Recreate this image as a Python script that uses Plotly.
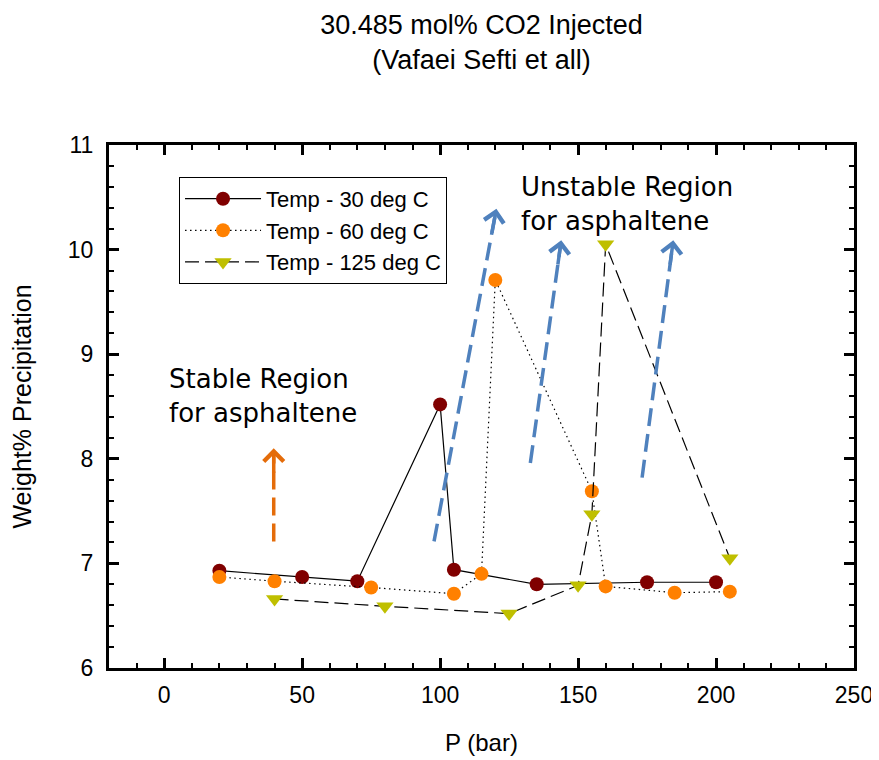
import math
import plotly.graph_objects as go

# ---- data ----
p30 = [20, 50, 70, 100, 105, 135, 175, 200]
w30 = [6.93, 6.87, 6.83, 8.52, 6.94, 6.80, 6.82, 6.82]

p60 = [20, 40, 75, 105, 115, 120, 155, 160, 185, 205]
w60 = [6.87, 6.83, 6.77, 6.71, 6.90, 9.71, 7.69, 6.78, 6.72, 6.73]

p125 = [40, 80, 125, 150, 155, 160, 205]
w125 = [6.66, 6.59, 6.52, 6.79, 7.47, 10.05, 7.05]

# arrows: (tail_x, tail_y, tip_x, tip_y)
blue_arrows = [(97.8, 7.21, 120.4, 10.39), (132.7, 7.96, 143.9, 10.09), (173.2, 7.82, 184.5, 10.09)]
orange_arrows = [(39.7, 7.21, 39.7, 8.10)]

X_RANGE = [-20, 250]
Y_RANGE = [6, 11]
PLOT_W, PLOT_H = 745, 523

AX_FONT = "Liberation Sans, Arial, sans-serif"
TXT_FONT = "DejaVu Sans, Verdana, sans-serif"

fig = go.Figure()
fig.add_trace(go.Scatter(x=p30, y=w30, mode="lines+markers", name="Temp - 30 deg C",
                         line=dict(color="black", width=1.2),
                         marker=dict(color="#800000", size=14, symbol="circle")))
fig.add_trace(go.Scatter(x=p60, y=w60, mode="lines+markers", name="Temp - 60 deg C",
                         line=dict(color="black", width=1.2, dash="1.5px,3.5px"),
                         marker=dict(color="#ff8000", size=14, symbol="circle")))
fig.add_trace(go.Scatter(x=p125, y=w125, mode="lines+markers", name="Temp - 125 deg C",
                         line=dict(color="black", width=1.2, dash="14px,6px"),
                         marker=dict(color="#bfbf00", size=15, symbol="triangle-down")))

sx = PLOT_W / (X_RANGE[1] - X_RANGE[0])
sy = PLOT_H / (Y_RANGE[1] - Y_RANGE[0])

def add_arrow(a, color):
    tx, ty, hx, hy = a
    dxp, dyp = (hx - tx) * sx, (hy - ty) * sy
    L = math.hypot(dxp, dyp)
    back = 26.0 / L  # head segment ~26px
    fig.add_shape(type="line", xref="x", yref="y", x0=tx, y0=ty,
                  x1=tx + (hx - tx) * (1 - 6.0 / L), y1=ty + (hy - ty) * (1 - 6.0 / L),
                  line=dict(color=color, width=3.5, dash="18px,8px"))
    fig.add_annotation(x=hx, y=hy, ax=hx - (hx - tx) * back, ay=hy - (hy - ty) * back,
                       xref="x", yref="y", axref="x", ayref="y", text="",
                       showarrow=True, arrowhead=4, arrowsize=1.1, arrowwidth=3.5,
                       arrowcolor=color)

for a in blue_arrows:
    add_arrow(a, "#4f81bd")
for a in orange_arrows:
    add_arrow(a, "#e46c0a")

fig.add_annotation(x=1, y=8.93, xref="x", yref="y", xanchor="left", yanchor="top",
                   text="Stable Region<br>for asphaltene", showarrow=False, align="left",
                   font=dict(family=TXT_FONT, size=26, color="black"))
fig.add_annotation(x=128.6, y=10.76, xref="x", yref="y", xanchor="left", yanchor="top",
                   text="Unstable Region<br>for asphaltene", showarrow=False, align="left",
                   font=dict(family=TXT_FONT, size=26, color="black"))

axis_common = dict(showline=True, linewidth=3, linecolor="black", mirror="ticks",
                   ticks="inside", ticklen=10, tickwidth=2.5, tickcolor="black",
                   showgrid=False, zeroline=False, automargin=False,
                   tickfont=dict(family=AX_FONT, size=23, color="black"))

fig.update_xaxes(range=X_RANGE, tick0=0, dtick=50,
                 minor=dict(dtick=10, ticks="inside", ticklen=5, tickwidth=1.5, tickcolor="black"),
                 title=dict(text="P (bar)", font=dict(family=AX_FONT, size=24, color="black"), standoff=28),
                 ticklabelstandoff=4, **axis_common)
fig.update_yaxes(range=Y_RANGE, tick0=6, dtick=1,
                 minor=dict(dtick=0.2, ticks="inside", ticklen=5, tickwidth=1.5, tickcolor="black"),
                 title=dict(text="Weight% Precipitation", font=dict(family=AX_FONT, size=25, color="black"), standoff=30),
                 ticklabelstandoff=8, **axis_common)

fig.update_layout(
    width=879, height=752,
    margin=dict(l=101, r=33, t=137, b=92),
    paper_bgcolor="white", plot_bgcolor="white",
    title=dict(text="30.485 mol% CO2 Injected<br>(Vafaei Sefti et all)", x=0.5, xref="paper",
               xanchor="center", yref="container", y=0.965, yanchor="middle",
               font=dict(family=AX_FONT, size=27, color="black")),
    legend=dict(x=0.094, y=0.939, xanchor="left", yanchor="top",
                bordercolor="black", borderwidth=1, bgcolor="white",
                itemwidth=76,
                font=dict(family=AX_FONT, size=22, color="black")),
    showlegend=True,
)

fig.write_html("out.html")
